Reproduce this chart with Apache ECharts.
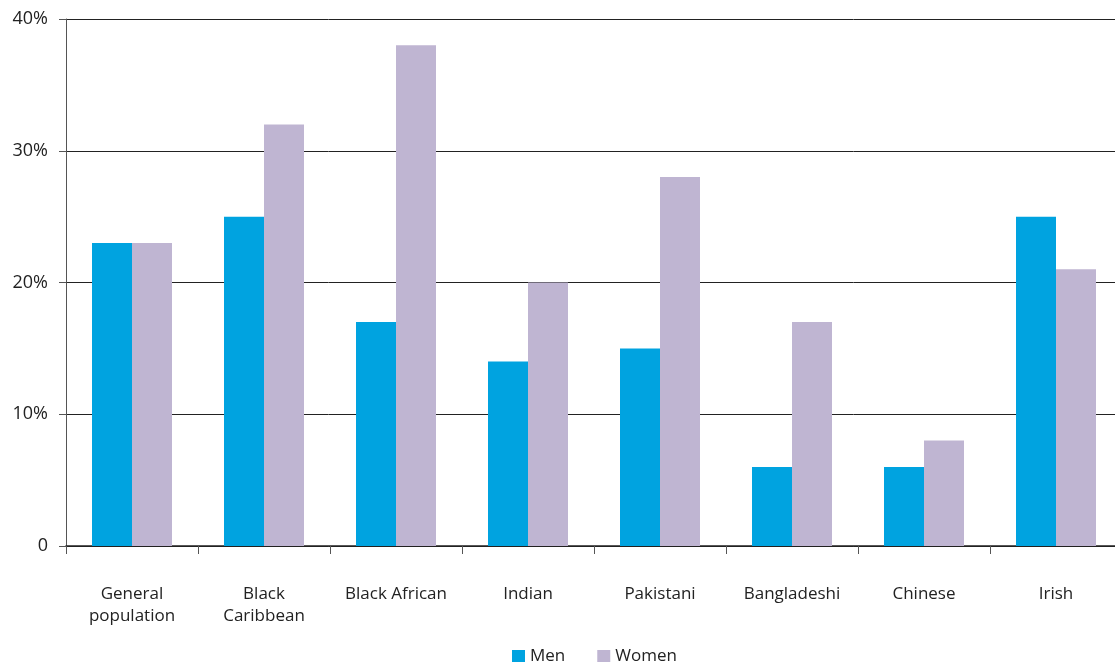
<!DOCTYPE html>
<html><head><meta charset="utf-8">
<script src="https://cdn.jsdelivr.net/npm/echarts@6/dist/echarts.min.js"></script>
<style>html,body{margin:0;padding:0;background:#fff}#c{width:1115px;height:662px}</style>
</head><body><div id="c"></div>
<script>
const categories = ['General\npopulation','Black\nCaribbean','Black African','Indian','Pakistani','Bangladeshi','Chinese','Irish'];
const men = [23,25,17,14,15,6,6,25];
const women = [23,32,38,20,28,17,8,21];
const yTicks = [0,10,20,30,40];
const chart = echarts.init(document.getElementById('c'));
const font = 'Open Sans';
chart.setOption({
  animation:false,
  grid:{left:66,width:1056,top:19,bottom:116,containLabel:false,outerBoundsMode:'none'},
  legend:{data:['Men','Women'],bottom:-8,left:507,itemWidth:13,itemHeight:13,itemGap:32,icon:'rect',
    textStyle:{fontFamily:font,fontSize:17,color:'#222'}},
  xAxis:{type:'category',data:categories,
    axisLine:{lineStyle:{color:'#222',width:1.5}},
    axisTick:{show:true,length:8,lineStyle:{color:'#555'}},
    axisLabel:{margin:37,fontFamily:font,fontSize:17,color:'#222',lineHeight:22,interval:0}},
  yAxis:{type:'value',min:0,max:40,interval:10,
    axisLine:{show:true,lineStyle:{color:'#555'}},
    axisTick:{show:true,length:7,lineStyle:{color:'#555'}},
    splitLine:{lineStyle:{color:'#222',width:1}},
    axisLabel:{margin:18,fontFamily:font,fontSize:18,color:'#222',
      formatter:v=>v===0?'0':v+'%'}},
  series:[
    {name:'Men',type:'bar',data:men,barWidth:40,barGap:'0%',itemStyle:{color:'#00A3E0'}},
    {name:'Women',type:'bar',data:women,barWidth:40,barGap:'0%',itemStyle:{color:'#BFB5D2'}}
  ]
});
</script></body></html>
